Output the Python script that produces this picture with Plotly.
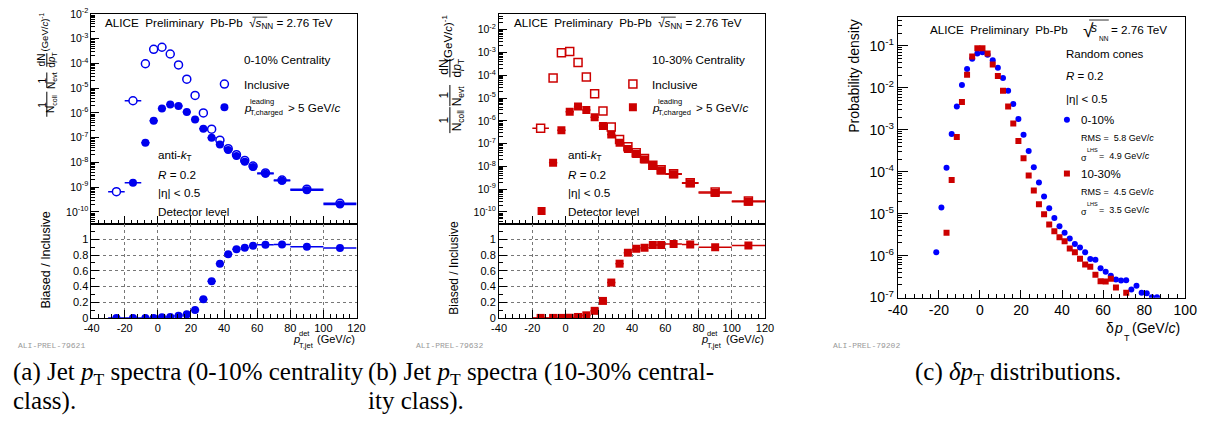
import plotly.graph_objects as go

W, H = 1217, 426
SANS = "Liberation Sans"
SERIF = "Liberation Serif"
MONO = "Liberation Mono"
BLUE_A = "#0000ee"
BLUE_C = "#0000ff"
RED = "#cc0000"

# ---------------- data ----------------
# panel (a): 0-10% centrality
a_x = [-25, -15, -7.5, -2.5, 2.5, 7.5, 12.5, 17.5, 22.5, 27.5, 32.5, 37.5, 42.5, 47.5, 52.5, 57.5, 65, 75, 90, 110]
a_xerr = [5, 5, 2.5, 2.5, 2.5, 2.5, 2.5, 2.5, 2.5, 2.5, 2.5, 2.5, 2.5, 2.5, 2.5, 2.5, 5, 5, 10, 10]
a_incl = [6.6e-10, 3.1e-6, 9.7e-5, 3.7e-4, 4.5e-4, 2.4e-4, 8.7e-5, 2.3e-5, 5.1e-6, 1.0e-6, 2.2e-7, 7.9e-8,
          3.6e-8, 2.06e-8, 1.2e-8, 7.1e-9, 3.76e-9, 1.93e-9, 8.3e-10, 2.25e-10]
a_bias = [None, 1.5e-9, 6.3e-8, 4.8e-7, 1.5e-6, 2.2e-6, 1.9e-6, 1.1e-6, 5.4e-7, 2.3e-7, 1.0e-7, 5.3e-8,
          3.2e-8, 1.8e-8, 1.07e-8, 6.5e-9, 3.5e-9, 1.8e-9, 7.5e-10, 2.0e-10]
a_ratio = [0.0, 0.0, 0.0, 0.0, 0.008, 0.012, 0.028, 0.045, 0.10, 0.237, 0.465, 0.69, 0.81, 0.873, 0.894,
           0.918, 0.93, 0.935, 0.906, 0.89]

# panel (b): 10-30% centrality
b_x = [-15, -7.5, -2.5, 2.5, 7.5, 12.5, 17.5, 22.5, 27.5, 32.5, 37.5, 42.5, 47.5, 52.5, 57.5, 65, 75, 90, 110]
b_xerr = [5, 2.5, 2.5, 2.5, 2.5, 2.5, 2.5, 2.5, 2.5, 2.5, 2.5, 2.5, 2.5, 2.5, 2.5, 5, 5, 10, 10]
b_incl = [4.7e-7, 7.6e-5, 9.7e-4, 1.1e-3, 3.6e-4, 8.5e-5, 1.55e-5, 2.7e-6, 5.4e-7, 1.5e-7, 7.2e-8, 4.0e-8,
          2.24e-8, 1.13e-8, 7.1e-9, 4.8e-9, 1.93e-9, 7.6e-10, 3.0e-10]
b_bias = [None, 1.45e-8, 3.9e-7, 2.5e-6, 4.3e-6, 3.0e-6, 1.43e-6, 6.0e-7, 2.5e-7, 1.1e-7, 5.8e-8, 3.5e-8,
          2.0e-8, 1.05e-8, 6.6e-9, 4.5e-9, 1.8e-9, 6.8e-10, 2.8e-10]
b_ratio = [0.0, 0.0, 0.0, 0.002, 0.012, 0.033, 0.09, 0.216, 0.45, 0.69, 0.83, 0.88, 0.894, 0.927, 0.927,
           0.94, 0.935, 0.90, 0.92]
b_ratio_err = [0, 0, 0, 0, 0, 0, 0, 0, 0, 0, 0, 0, 0, 0, 0, 0, 0, 0.01, 0.04]

# panel (c): delta pT distributions
c_x_010 = [-21.25, -18.75, -16.25, -13.75, -11.25, -8.75, -6.25, -3.75, -1.25, 1.25, 3.75, 6.25, 8.75,
           11.25, 13.75, 16.25, 18.75, 21.25, 23.75, 26.25, 28.75, 31.25, 33.75, 36.25, 38.75, 41.25,
           43.75, 46.25, 48.75, 51.25, 53.75, 56.25, 58.75, 61.25, 63.75, 66.25, 68.75, 71.25, 73.75,
           76.25, 78.75, 81.25, 83.75, 86.25]
c_y_010 = [1.2e-6, 1.4e-5, 1.25e-4, 7.9e-4, 3.6e-3, 1.17e-2, 2.8e-2, 4.9e-2, 6.6e-2, 7.0e-2, 6.1e-2, 4.5e-2,
           3.0e-2, 1.7e-2, 8.5e-3, 4.1e-3, 1.8e-3, 7.6e-4, 3.1e-4, 1.28e-4, 5.5e-5, 2.55e-5, 1.34e-5,
           7.9e-6, 5.0e-6, 3.5e-6, 2.55e-6, 1.9e-6, 1.55e-6, 1.2e-6, 8.3e-7, 8.0e-7, 5.0e-7, 4.1e-7,
           3.3e-7, 2.7e-7, 2.56e-7, 2.6e-7, 1.55e-7, 1.9e-7, 1.3e-7, 1.26e-7, 1.02e-7, 1.02e-7]
c_x_1030 = [-16.25, -13.75, -11.25, -8.75, -6.25, -3.75, -1.25, 1.25, 3.75, 6.25, 8.75, 11.25, 13.75,
            16.25, 18.75, 21.25, 23.75, 26.25, 28.75, 31.25, 33.75, 36.25, 38.75, 41.25, 43.75, 46.25,
            48.75, 51.25, 53.75, 56.25, 58.75, 61.25, 63.75, 66.25, 68.75, 71.25]
c_y_1030 = [3.5e-6, 6.3e-5, 6.7e-4, 4.6e-3, 2.05e-2, 5.6e-2, 8.8e-2, 8.8e-2, 6.6e-2, 3.6e-2, 1.9e-2, 8.5e-3,
            3.6e-3, 1.4e-3, 5.4e-4, 2.1e-4, 8.1e-5, 3.55e-5, 1.67e-5, 9.7e-6, 5.5e-6, 3.8e-6, 2.75e-6,
            2.2e-6, 1.48e-6, 1.2e-6, 8.4e-7, 6.1e-7, 5.4e-7, 3.5e-7, 2.45e-7, 2.4e-7, 2.8e-7, 1.74e-7,
            None, 1.3e-7]

# tick labels
ab_xticks = [-40, -20, 0, 20, 40, 60, 80, 100, 120]
c_xticks = [-40, -20, 0, 20, 40, 60, 80, 100]
ratio_ticks = [0, 0.2, 0.4, 0.6, 0.8, 1]
ratio_ticktext = ["0", "0.2", "0.4", "0.6", "0.8", "1"]
ab_yexp = [-10, -9, -8, -7, -6, -5, -4, -3, -2]
c_yexp = [-7, -6, -5, -4, -3, -2, -1]

# ---------------- helpers ----------------
anns, shapes = [], []


def T(text, x, y, size=12, xa="left", ya="middle", angle=0, family=SANS, color="black"):
    anns.append(dict(text=text, x=x / W, y=1 - y / H, xref="paper", yref="paper", xanchor=xa,
                     yanchor=ya, showarrow=False, textangle=angle, borderpad=0,
                     font=dict(family=family, size=size, color=color)))


def L(x0, y0, x1, y1, w=1):
    shapes.append(dict(type="line", xref="paper", yref="paper", x0=x0 / W, y0=1 - y0 / H,
                       x1=x1 / W, y1=1 - y1 / H, line=dict(color="black", width=w)))


def logminor(e0, e1):
    return [m * 10.0 ** e for e in range(e0, e1) for m in range(2, 10)]


def xaxis(px0, px1, rng, anchor, ticks, show_labels, grid=False, size=11):
    return dict(domain=[px0 / W, px1 / W], range=rng, anchor=anchor, showline=True, linecolor="black",
                linewidth=1, mirror=True, ticks="inside", ticklen=8, tickwidth=1, tickcolor="black",
                zeroline=False, showgrid=grid, gridcolor="#777", griddash="dot", gridwidth=1,
                tickmode="array", tickvals=ticks, ticktext=[str(v) for v in ticks],
                showticklabels=show_labels, ticklabeloverflow="allow",
                tickfont=dict(family=SANS, size=size, color="black"),
                minor=dict(ticks="inside", ticklen=4, tickcolor="black", tickmode="linear", tick0=-40,
                           dtick=4, showgrid=False))


def ylog(py_top, py_bot, rng, anchor, exps, size=11, ticklen=8):
    return dict(type="log", domain=[1 - py_bot / H, 1 - py_top / H], range=rng, anchor=anchor,
                showline=True, linecolor="black", linewidth=1, mirror=True, ticks="inside",
                ticklen=ticklen, tickcolor="black", zeroline=False, showgrid=False, tickmode="array",
                tickvals=[10.0 ** e for e in exps], ticktext=["10<sup>%d</sup>" % e for e in exps],
                ticklabeloverflow="allow",
                tickfont=dict(family=SANS, size=size, color="black"),
                minor=dict(ticks="inside", ticklen=4, tickcolor="black", tickmode="array",
                           tickvals=logminor(exps[0] - 1, exps[-1] + 1), showgrid=False))


def yratio(py_top, py_bot, anchor):
    return dict(domain=[1 - py_bot / H, 1 - py_top / H], range=[0, 1.2], anchor=anchor, showline=True,
                linecolor="black", linewidth=1, mirror=True, ticks="inside", ticklen=8, tickcolor="black",
                zeroline=False, showgrid=True, gridcolor="#777", griddash="dot", gridwidth=1,
                tickmode="array", tickvals=ratio_ticks, ticktext=ratio_ticktext,
                ticklabeloverflow="allow",
                tickfont=dict(family=SANS, size=11, color="black"),
                minor=dict(ticks="inside", ticklen=4, tickcolor="black", tickmode="linear", tick0=0,
                           dtick=0.1, showgrid=False))


def leg(x, y):
    return dict(x=(x - 20) / W, y=1 - y / H, xanchor="left", yanchor="middle", bgcolor="rgba(0,0,0,0)",
                borderwidth=0, font=dict(family=SANS, size=11), itemwidth=30)


fig = go.Figure()

# ---------------- panel (a) ----------------
fig.add_trace(go.Scatter(x=a_x, y=a_incl, mode="markers", name=" ", legend="legend",
                         marker=dict(symbol="circle", size=8, color="white", line=dict(width=1.5, color=BLUE_A)),
                         error_x=dict(type="data", array=a_xerr, color=BLUE_A, thickness=1.5, width=0),
                         xaxis="x", yaxis="y"))
fig.add_trace(go.Scatter(x=a_x, y=a_bias, mode="markers", name=" ", legend="legend2",
                         marker=dict(symbol="circle", size=8, color=BLUE_A),
                         error_x=dict(type="data", array=a_xerr, color=BLUE_A, thickness=1.5, width=0),
                         xaxis="x", yaxis="y"))
fig.add_trace(go.Scatter(x=a_x, y=a_ratio, mode="markers", showlegend=False,
                         marker=dict(symbol="circle", size=8, color=BLUE_A),
                         error_x=dict(type="data", array=a_xerr, color=BLUE_A, thickness=1.5, width=0),
                         xaxis="x2", yaxis="y2"))

# ---------------- panel (b) ----------------
fig.add_trace(go.Scatter(x=b_x, y=b_incl, mode="markers", name=" ", legend="legend3",
                         marker=dict(symbol="square", size=8, color="white", line=dict(width=1.5, color=RED)),
                         error_x=dict(type="data", array=b_xerr, color=RED, thickness=1.5, width=0),
                         xaxis="x3", yaxis="y3"))
fig.add_trace(go.Scatter(x=b_x, y=b_bias, mode="markers", name=" ", legend="legend4",
                         marker=dict(symbol="square", size=8, color=RED),
                         error_x=dict(type="data", array=b_xerr, color=RED, thickness=1.5, width=0),
                         xaxis="x3", yaxis="y3"))
fig.add_trace(go.Scatter(x=[None], y=[None], mode="markers", name=" ", legend="legend5",
                         marker=dict(symbol="square", size=8, color=RED), xaxis="x3", yaxis="y3"))
fig.add_trace(go.Scatter(x=b_x, y=b_ratio, mode="markers", showlegend=False,
                         marker=dict(symbol="square", size=8, color=RED),
                         error_x=dict(type="data", array=b_xerr, color=RED, thickness=1.5, width=0),
                         error_y=dict(type="data", array=b_ratio_err, color=RED, thickness=1.5, width=0),
                         xaxis="x4", yaxis="y4"))

# ---------------- panel (c) ----------------
fig.add_trace(go.Scatter(x=c_x_010, y=c_y_010, mode="markers", name=" ", legend="legend6",
                         marker=dict(symbol="circle", size=6, color=BLUE_C), xaxis="x5", yaxis="y5"))
fig.add_trace(go.Scatter(x=c_x_1030, y=c_y_1030, mode="markers", name=" ", legend="legend7",
                         marker=dict(symbol="square", size=6, color=RED), xaxis="x5", yaxis="y5"))

# ---------------- text: panel (a) ----------------
NB = "\u00a0"
alice = "ALICE" + NB * 2 + "Preliminary" + NB * 2 + "Pb-Pb" + NB * 2 + "\u221a<i>s</i><sub>NN</sub> = 2.76 TeV"
T(alice, 96, 16, 11.7)
L(247, 9.5, 262, 9.5, 0.8)
T("0-10% Centrality", 237, 53, 11.7)
T("Inclusive", 237, 79, 11.7)
T("<i>p</i>", 237, 103, 11.7)
T("leading", 243, 97, 7.5)
T("T,charged", 243, 108.5, 7.5)
T("> 5 GeV/<i>c</i>", 282, 103, 11.7)
T("anti-<i>k</i><sub>T</sub>", 150, 153, 11.7)
T("<i>R</i> = 0.2", 150, 173, 11.7)
T("|\u03b7| < 0.5", 150, 192, 11.7)
T("Detector level", 150, 211, 11.7)
# y title (a)
T("1", 33, 100, 10, "center", "middle", -90)
L(37.5, 87, 37.5, 113)
T("N<sub>coll</sub>", 42.5, 100, 10, "center", "middle", -90)
T("1", 33, 75, 10, "center", "middle", -90)
L(37.5, 67, 37.5, 83)
T("N<sub>evt</sub>", 42.5, 75, 10, "center", "middle", -90)
T("dN", 33, 54, 10, "center", "middle", -90)
L(37.5, 47, 37.5, 61)
T("d<i>p</i><sub>T</sub>", 42.5, 54, 10, "center", "middle", -90)
T("(GeV/<i>c</i>)<sup>-1</sup>", 35, 25, 9.5, "center", "middle", -90)
T("Biased / Inclusive", 37, 262, 12.5, "center", "middle", -90)
# x title (a)
T("<i>p</i>", 287, 344, 11)
T("det", 293, 338, 7.5)
T("T,jet", 293, 351, 7.5)
T("(GeV/<i>c</i>)", 312, 344, 11)
T("ALI-PREL-79621", 7, 351, 8, family=MONO, color="#999999")

# ---------------- text: panel (b) ----------------
T(alice, 512, 16, 11.7)
L(663, 9.5, 678, 9.5, 0.8)
T("10-30% Centrality", 653, 53, 11.7)
T("Inclusive", 653, 79, 11.7)
T("<i>p</i>", 653, 103, 11.7)
T("leading", 659, 97, 7.5)
T("T,charged", 659, 108.5, 7.5)
T("> 5 GeV/<i>c</i>", 698, 103, 11.7)
T("anti-<i>k</i><sub>T</sub>", 567, 153, 11.7)
T("<i>R</i> = 0.2", 567, 173, 11.7)
T("|\u03b7| < 0.5", 567, 192, 11.7)
T("Detector level", 567, 211, 11.7)
T("1", 442, 117, 12, "center", "middle", -90)
L(448, 103, 448, 130)
T("N<sub>coll</sub>", 456, 117, 12, "center", "middle", -90)
T("1", 442, 91, 12, "center", "middle", -90)
L(448, 80, 448, 102)
T("N<sub>evt</sub>", 456, 91, 12, "center", "middle", -90)
T("dN", 442, 62, 12, "center", "middle", -90)
L(448, 53, 448, 72)
T("d<i>p</i><sub>T</sub>", 456, 62, 12, "center", "middle", -90)
T("(GeV/<i>c</i>)<sup>-1</sup>", 445, 31, 11.5, "center", "middle", -90)
T("Biased / Inclusive", 452, 270, 12, "center", "middle", -90)
T("<i>p</i>", 703, 344, 11)
T("det", 709, 338, 7.5)
T("T,jet", 709, 351, 7.5)
T("(GeV/<i>c</i>)", 728, 344, 11)
T("ALI-PREL-79632", 412, 351, 8, family=MONO, color="#999999")

# ---------------- text: panel (c) ----------------
T("ALICE" + NB * 2 + "Preliminary" + NB * 2 + "Pb-Pb", 936, 22, 11.7)
T("\u221a", 1092, 23, 19)
L(1099, 12.5, 1119, 12.5, 0.8)
T("<i>s</i>", 1100, 21, 12)
T("NN", 1108, 31.5, 6.5)
T("= 2.76 TeV", 1120, 22, 11.7)
T("Random cones", 1074, 48, 11.5)
T("<i>R</i> = 0.2", 1074, 71, 11.5)
T("|\u03b7| < 0.5", 1074, 95, 11.5)
T("0-10%", 1090, 116, 11.5)
T("RMS =" + NB * 2 + "5.8 GeV/<i>c</i>", 1090, 135, 9)
T("\u03c3", 1090, 156, 9)
T("LHS", 1096, 148, 5.5)
T("=" + NB * 2 + "4.9 GeV/<i>c</i>", 1108, 154, 9)
T("10-30%", 1090, 172, 11.5)
T("RMS =" + NB * 2 + "4.5 GeV/<i>c</i>", 1090, 191, 9)
T("\u03c3", 1090, 212, 9)
T("LHS", 1096, 204, 5.5)
T("=" + NB * 2 + "3.5 GeV/<i>c</i>", 1108, 210, 9)
T("Probability density", 860, 70, 14, "center", "middle", -90)
T("\u03b4", 1115, 332, 14)
T("<i>p</i>", 1123, 332, 14)
T("T", 1133, 343, 9)
T("(GeV/<i>c</i>)", 1142, 332, 14)
T("ALI-PREL-79202", 837, 351, 8, family=MONO, color="#999999")

# ---------------- captions ----------------
CAP = 25
T("(a) Jet <i>p</i><sub>T</sub> spectra (0-10% centrality", 2, 380, CAP, family=SERIF)
T("class).", 2, 408, CAP, family=SERIF)
T("(b) Jet <i>p</i><sub>T</sub> spectra (10-30% central-", 364, 380, CAP, family=SERIF)
T("ity class).", 364, 408, CAP, family=SERIF)
T("(c) <i>\u03b4p</i><sub>T</sub> distributions.", 921, 380, CAP, family=SERIF)

# ---------------- layout ----------------
layout = dict(
    width=W, height=H, autosize=False, margin=dict(l=0, r=0, t=0, b=0),
    paper_bgcolor="white", plot_bgcolor="white", annotations=anns, shapes=shapes,
    xaxis=xaxis(83, 353, [-40.05, 120.05], "y", ab_xticks, False),
    yaxis=ylog(6, 224, [-10.47, -1.995], "x", ab_yexp, 10.5),
    xaxis2=xaxis(83, 353, [-40.05, 120.05], "y2", ab_xticks, True, grid=True),
    yaxis2=yratio(224, 322, "x2"),
    xaxis3=xaxis(498, 769, [-40.05, 120.05], "y3", ab_xticks, False),
    yaxis3=ylog(6, 224, [-10.51, -1.3], "x3", ab_yexp, 10.5),
    xaxis4=xaxis(498, 769, [-40.05, 120.05], "y4", ab_xticks, True, grid=True),
    yaxis4=yratio(224, 322, "x4"),
    xaxis5=xaxis(904, 1197, [-40.05, 100.05], "y5", c_xticks, True, size=14),
    yaxis5=ylog(9.3, 301, [-7.003, -0.312], "x5", c_yexp, 14, ticklen=10),
    legend=leg(218, 79), legend2=leg(218, 103),
    legend3=leg(634, 79), legend4=leg(634, 103), legend5=leg(541, 211),
    legend6=leg(1076, 116), legend7=leg(1076, 172),
)
fig.update_layout(**layout)
fig.write_html("out.html", config={"displayModeBar": False},
               post_script="document.body.style.margin='0';document.body.style.overflow='hidden';")
